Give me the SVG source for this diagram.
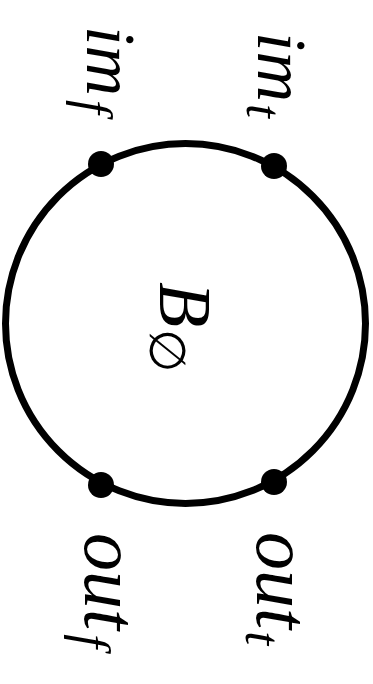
<svg xmlns="http://www.w3.org/2000/svg" width="373" height="684" viewBox="0 0 373 684">
<style>
.lbl{font-family:"Liberation Serif","DejaVu Serif",serif;font-style:italic;fill:#000}
.sym{font-family:"DejaVu Serif","Liberation Serif",serif;font-style:normal}
.edge{fill:none;stroke:#000;stroke-width:7}
.port{fill:#000}
</style>
<rect width="373" height="684" fill="#fff"/>
<g id="connectors">
<circle class="edge" cx="185.5" cy="323.5" r="180"/>
</g>
<g id="node-B">
<text class="lbl" transform="translate(160,282) rotate(90)" font-size="74">B<tspan class="sym" font-size="50" dx="2" dy="10">∅</tspan></text>
</g>
<g id="port-in-f">
<circle class="port" cx="101" cy="164" r="13"/>
<text class="lbl" transform="translate(87,26) rotate(90)" font-size="70">im<tspan font-size="50" dx="4" dy="10">f</tspan></text>
</g>
<g id="port-in-t">
<circle class="port" cx="274" cy="166" r="13"/>
<text class="lbl" transform="translate(258,32) rotate(90)" font-size="70">im<tspan font-size="50" dx="2" dy="11">t</tspan></text>
</g>
<g id="port-out-f">
<circle class="port" cx="101" cy="485" r="13"/>
<text class="lbl" transform="translate(85,533) rotate(90)" font-size="76">out<tspan font-size="50" dx="4" dy="10">f</tspan></text>
</g>
<g id="port-out-t">
<circle class="port" cx="274" cy="482" r="13"/>
<text class="lbl" transform="translate(257,532) rotate(90)" font-size="76">out<tspan font-size="50" dx="2" dy="11">t</tspan></text>
</g>
</svg>
